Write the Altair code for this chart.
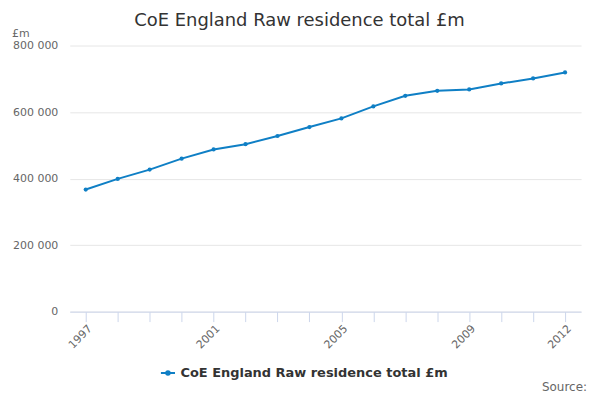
import pandas as pd
import altair as alt

years = [str(y) for y in range(1997, 2013)]
values = [367000, 399000, 427000, 460000, 487500, 503500, 528000, 555000,
          581000, 617000, 649000, 664000, 668000, 686000, 701000, 719000]
series = "CoE England Raw residence total £m"
shown_years = ["1997", "2001", "2005", "2009", "2012"]
y_ticks = [0, 200000, 400000, 600000, 800000]

df = pd.DataFrame({"year": years, "value": values, "series": series})

font = "DejaVu Sans"
blue = "#0f7fc5"

line = alt.Chart(df).mark_line(
    strokeWidth=2,
    point=alt.OverlayMarkDef(size=18, filled=True, color=blue),
).encode(
    x=alt.X("year:O", title=None,
            scale=alt.Scale(type="point", padding=0.5),
            axis=alt.Axis(labelAngle=-45, labelColor="#666666", labelFontSize=11,
                          labelFont=font, tickColor="#ccd6eb", tickSize=10,
                          domainColor="#ccd6eb", grid=False, labelPadding=1,
                          labelExpr="indexof(" + str(shown_years) + ", datum.label) >= 0 ? datum.label : ''")),
    y=alt.Y("value:Q", title=None,
            scale=alt.Scale(domain=[0, 800000]),
            axis=alt.Axis(values=y_ticks, labelColor="#666666", labelFontSize=11,
                          labelFont=font, ticks=False, domain=False,
                          gridColor="#e6e6e6", labelPadding=12,
                          labelExpr="replace(format(datum.value, ','), ',', ' ')")),
    color=alt.Color("series:N", title=None,
                    scale=alt.Scale(range=[blue]),
                    legend=alt.Legend(orient="none", legendX=90, legendY=320,
                                      labelFont=font, labelFontSize=13,
                                      labelFontWeight="bold", labelColor="#333333",
                                      symbolType="M-1,0L1,0M-0.25,0A0.25,0.25 0 1 0 0.25,0A0.25,0.25 0 1 0 -0.25,0",
                                      symbolSize=200, symbolStrokeWidth=2,
                                      symbolFillColor=blue, labelLimit=400)),
)

notes = pd.DataFrame({"t": ["£m", "Source:"]})

unit = alt.Chart(notes.iloc[[0]]).mark_text(
    align="left", baseline="bottom", font=font, fontSize=11, color="#666666",
).encode(text="t:N", x=alt.value(-58), y=alt.value(-7))

source = alt.Chart(notes.iloc[[1]]).mark_text(
    align="right", baseline="bottom", font=font, fontSize=12, color="#666666",
).encode(text="t:N", x=alt.value(519), y=alt.value(350))

chart = alt.layer(line, unit, source).properties(
    width=513, height=267,
    autosize=alt.AutoSizeParams(type="none"),
    padding={"left": 62, "top": 37, "right": 11, "bottom": 86},
    title=alt.TitleParams(series, font=font, fontSize=18, fontWeight="normal",
                          color="#333333", anchor="middle", dx=-26, dy=2, offset=0),
).configure_view(stroke=None)

chart.save("out.html", embed_options={"renderer": "svg", "actions": False})
